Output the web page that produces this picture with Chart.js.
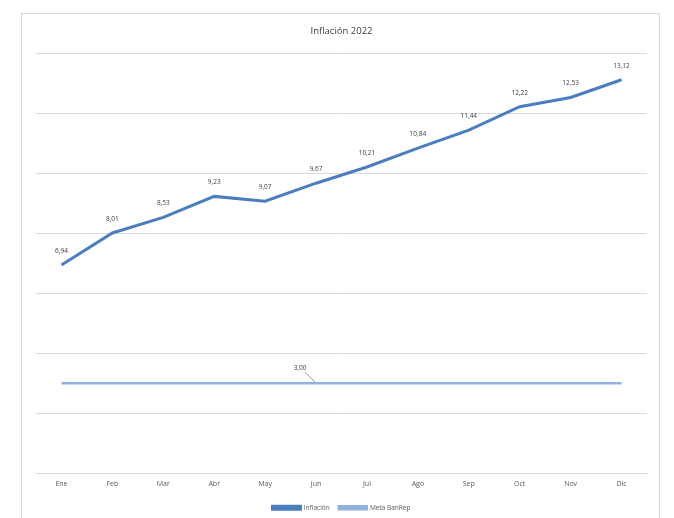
<!DOCTYPE html>
<html>
<head>
<meta charset="utf-8">
<script src="https://cdn.jsdelivr.net/npm/chart.js@4"></script>
<style>
  html, body { margin: 0; padding: 0; background: #fff; }
  #wrap { position: relative; width: 674px; height: 518px; overflow: hidden; }
  #frame { position: absolute; left: 21px; top: 13px; width: 639px; height: 520px; border: 1px solid #d9d9d9; box-sizing: border-box; }
  canvas { position: absolute; left: 0; top: 0; }
</style>
</head>
<body>
<div id="wrap">
  <div id="frame"></div>
  <canvas id="chart" width="674" height="518"></canvas>
</div>
<script>
const months = ['Ene', 'Feb', 'Mar', 'Abr', 'May', 'Jun', 'Jul', 'Ago', 'Sep', 'Oct', 'Nov', 'Dic'];
const inflacion = [6.94, 8.01, 8.53, 9.23, 9.07, 9.67, 10.21, 10.84, 11.44, 12.22, 12.53, 13.12];
const metaBanRep = [3, 3, 3, 3, 3, 3, 3, 3, 3, 3, 3, 3];

const FONT = "'Open Sans', 'Noto Sans', sans-serif";

function fmt(v) {
  return v.toFixed(2).replace('.', ',');
}

// value labels: every point of Inflación, one label with leader line for the target
const valueLabels = {
  id: 'valueLabels',
  afterDatasetsDraw(chart) {
    const ctx = chart.ctx;
    ctx.save();
    ctx.font = '6.5px ' + FONT;
    ctx.fillStyle = '#404040';
    ctx.textAlign = 'center';
    ctx.textBaseline = 'middle';

    chart.getDatasetMeta(0).data.forEach((pt, i) => {
      ctx.fillText(fmt(inflacion[i]), pt.x, pt.y - 14);
    });

    const p = chart.getDatasetMeta(1).data[5];
    ctx.fillText(fmt(metaBanRep[5]), p.x - 16, p.y - 15);
    ctx.strokeStyle = '#7f7f7f';
    ctx.lineWidth = 0.8;
    ctx.beginPath();
    ctx.moveTo(p.x - 11, p.y - 11);
    ctx.lineTo(p.x - 1, p.y - 1);
    ctx.stroke();
    ctx.restore();
  }
};

new Chart(document.getElementById('chart'), {
  type: 'line',
  data: {
    labels: months,
    datasets: [
      {
        label: 'Inflación',
        data: inflacion,
        borderColor: '#4a7ebf',
        backgroundColor: '#4a7ebf',
        borderWidth: 3,
        pointRadius: 0,
        tension: 0
      },
      {
        label: 'Meta BanRep',
        data: metaBanRep,
        borderColor: '#8fb2e0',
        backgroundColor: '#8fb2e0',
        borderWidth: 2.5,
        pointRadius: 0,
        tension: 0
      }
    ]
  },
  options: {
    responsive: false,
    animation: false,
    layout: {
      padding: { left: 36, right: 27, top: 0, bottom: -3 }
    },
    scales: {
      x: {
        offset: true,
        grid: { display: false, drawTicks: false },
        border: { display: true, color: '#d9d9d9' },
        ticks: {
          color: '#595959',
          font: { size: 7, family: FONT },
          padding: 7,
          maxRotation: 0
        }
      },
      y: {
        min: 0,
        max: 14,
        border: { display: false },
        grid: { color: '#d9d9d9', drawTicks: false },
        ticks: { display: false, stepSize: 2 }
      }
    },
    plugins: {
      title: {
        display: true,
        text: 'Inflación 2022',
        color: '#404040',
        font: { size: 9.5, family: FONT, weight: 'normal' },
        padding: { top: 26, bottom: 16 }
      },
      legend: {
        position: 'bottom',
        labels: {
          color: '#595959',
          font: { size: 6.5, family: FONT },
          boxWidth: 28,
          boxHeight: 3,
          padding: 9
        }
      },
      tooltip: { enabled: false }
    }
  },
  plugins: [valueLabels]
});
</script>
</body>
</html>
